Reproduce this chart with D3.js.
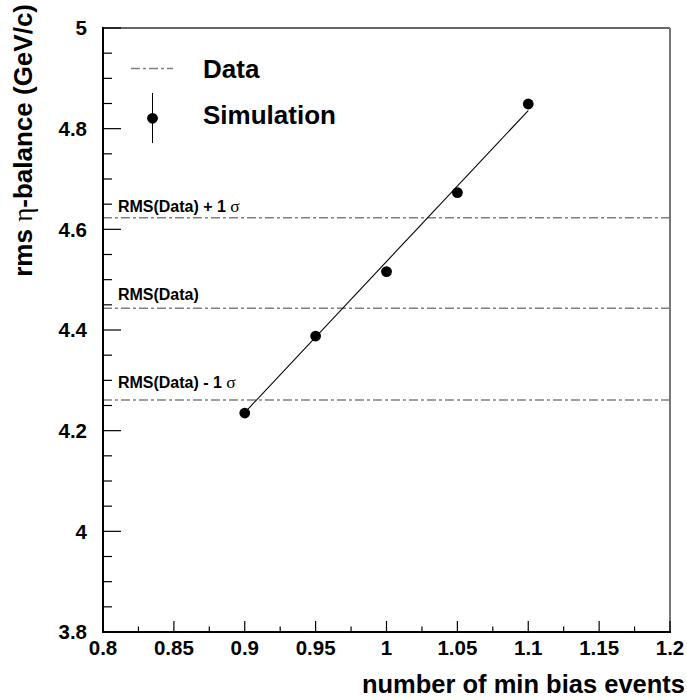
<!DOCTYPE html>
<html>
<head>
<meta charset="utf-8">
<script src="https://cdn.jsdelivr.net/npm/d3@7"></script>
<style>
  html, body { margin: 0; padding: 0; background: #fff; }
  svg { display: block; }
  text { font-family: "Liberation Sans", Arial, Helvetica, sans-serif; font-weight: bold; fill: #000; }
</style>
</head>
<body>
<svg id="chart" width="687" height="700"></svg>
<script>
// Simulated rms eta-balance versus number of min bias events
const simX = [0.90, 0.95, 1.00, 1.05, 1.10];
const simY = [4.235, 4.388, 4.516, 4.673, 4.849];

// Straight-line fit through the simulation points (end points)
const fitX = [0.90, 1.10];
const fitY = [4.236, 4.836];

// Reference levels from data
const refNames = ["RMS(Data) + 1 ", "RMS(Data)", "RMS(Data) - 1 "];
const refSigma = ["σ", "", "σ"];
const refLevels = [4.623, 4.443, 4.261];
const refLabelY = [4.635, 4.460, 4.285];
const refLabelX = 0.8105;

// Axes
const xDomain = [0.8, 1.2];
const yDomain = [3.8, 5.0];
const xMajor = [0.8, 0.85, 0.9, 0.95, 1.0, 1.05, 1.1, 1.15, 1.2];
const xMajorLabels = ["0.8", "0.85", "0.9", "0.95", "1", "1.05", "1.1", "1.15", "1.2"];
const xMinor = [0.825, 0.875, 0.925, 0.975, 1.025, 1.075, 1.125, 1.175];
const yMajor = [3.8, 4.0, 4.2, 4.4, 4.6, 4.8, 5.0];
const yMajorLabels = ["3.8", "4", "4.2", "4.4", "4.6", "4.8", "5"];
const yMinor = [3.85, 3.9, 3.95, 4.05, 4.1, 4.15, 4.25, 4.3, 4.35, 4.45, 4.5, 4.55, 4.65, 4.7, 4.75, 4.85, 4.9, 4.95];

const xTitle = "number of min bias events";
const legendLabels = ["Data", "Simulation"];

const svg = d3.select("#chart");
const L = 103, R = 670, T = 28, B = 632;
const x = d3.scaleLinear().domain(xDomain).range([L, R]);
const y = d3.scaleLinear().domain(yDomain).range([B, T]);

const dashDot = "9,3,3,3";
const refColor = "#808080";

// Data reference lines
svg.append("g").selectAll("line").data(refLevels).join("line")
  .attr("x1", L).attr("x2", R)
  .attr("y1", d => y(d)).attr("y2", d => y(d))
  .attr("stroke", refColor).attr("stroke-width", 1.5)
  .attr("stroke-dasharray", dashDot);

// Reference labels
const lab = svg.append("g").selectAll("text").data(refNames).join("text")
  .attr("x", x(refLabelX))
  .attr("y", (d, i) => y(refLabelY[i]))
  .style("font-size", "16px");
lab.append("tspan").text(d => d);
lab.append("tspan").text((d, i) => refSigma[i])
  .style("font-weight", "normal")
  .style("font-family", "'Liberation Serif', 'DejaVu Serif', serif")
  .style("font-size", "17.5px");

// Fit line
svg.append("line")
  .attr("x1", x(fitX[0])).attr("y1", y(fitY[0]))
  .attr("x2", x(fitX[1])).attr("y2", y(fitY[1]))
  .attr("stroke", "#000").attr("stroke-width", 1.1);

// Simulation points
svg.append("g").selectAll("circle").data(simX).join("circle")
  .attr("cx", d => x(d))
  .attr("cy", (d, i) => y(simY[i]))
  .attr("r", 5.4)
  .attr("fill", "#000");

// Frame: top and right edges
svg.append("line").attr("x1", L).attr("x2", R).attr("y1", T).attr("y2", T)
  .attr("stroke", "#333").attr("stroke-width", 1.5);
svg.append("line").attr("x1", R).attr("x2", R).attr("y1", T).attr("y2", B)
  .attr("stroke", "#777").attr("stroke-width", 2);

// Left axis
const yAxis = svg.append("g");
yAxis.append("line").attr("x1", L).attr("x2", L).attr("y1", T - 1).attr("y2", B + 1)
  .attr("stroke", "#000").attr("stroke-width", 2);
yAxis.selectAll("line.maj").data(yMajor).join("line").attr("class", "maj")
  .attr("x1", L).attr("x2", L + 18)
  .attr("y1", d => y(d)).attr("y2", d => y(d))
  .attr("stroke", "#000").attr("stroke-width", 1.2);
yAxis.selectAll("line.min").data(yMinor).join("line").attr("class", "min")
  .attr("x1", L).attr("x2", L + 9)
  .attr("y1", d => y(d)).attr("y2", d => y(d))
  .attr("stroke", "#000").attr("stroke-width", 1.2);
yAxis.selectAll("text").data(yMajor).join("text")
  .attr("x", 87)
  .attr("y", d => y(d))
  .attr("dy", "0.36em")
  .attr("text-anchor", "end")
  .style("font-size", "20.5px")
  .text((d, i) => yMajorLabels[i]);

// Bottom axis
const xAxis = svg.append("g");
xAxis.append("line").attr("x1", L - 1).attr("x2", R + 1).attr("y1", B).attr("y2", B)
  .attr("stroke", "#000").attr("stroke-width", 2);
xAxis.selectAll("line.maj").data(xMajor).join("line").attr("class", "maj")
  .attr("x1", d => x(d)).attr("x2", d => x(d))
  .attr("y1", B).attr("y2", B - 11)
  .attr("stroke", "#000").attr("stroke-width", 1.2);
xAxis.selectAll("line.min").data(xMinor).join("line").attr("class", "min")
  .attr("x1", d => x(d)).attr("x2", d => x(d))
  .attr("y1", B).attr("y2", B - 5.5)
  .attr("stroke", "#000").attr("stroke-width", 1.2);
xAxis.selectAll("text").data(xMajor).join("text")
  .attr("x", d => x(d))
  .attr("y", 655)
  .attr("text-anchor", "middle")
  .style("font-size", "20.5px")
  .text((d, i) => xMajorLabels[i]);

// Axis titles
svg.append("text")
  .attr("x", 685).attr("y", 693)
  .attr("text-anchor", "end")
  .style("font-size", "25.5px")
  .text(xTitle);

const yt = svg.append("text")
  .attr("transform", "translate(32,4) rotate(-90)")
  .attr("text-anchor", "end")
  .style("font-size", "26px");
yt.append("tspan").text("rms ");
yt.append("tspan").text("η")
  .style("font-weight", "normal")
  .style("font-family", "'Liberation Serif', 'DejaVu Serif', serif")
  .style("font-size", "27px");
yt.append("tspan").text("-balance (GeV/c)");

// Legend
const leg = svg.append("g");
leg.append("line")
  .attr("x1", 131).attr("x2", 173).attr("y1", 68.5).attr("y2", 68.5)
  .attr("stroke", refColor).attr("stroke-width", 1.5)
  .attr("stroke-dasharray", dashDot);
leg.append("line")
  .attr("x1", 152.5).attr("x2", 152.5).attr("y1", 93).attr("y2", 143)
  .attr("stroke", "#000").attr("stroke-width", 1);
leg.append("circle").attr("cx", 152.5).attr("cy", 118.3).attr("r", 5.4).attr("fill", "#000");
leg.selectAll("text").data(legendLabels).join("text")
  .attr("x", 203)
  .attr("y", (d, i) => [77.5, 123.5][i])
  .style("font-size", "26px")
  .text(d => d);
</script>
</body>
</html>
